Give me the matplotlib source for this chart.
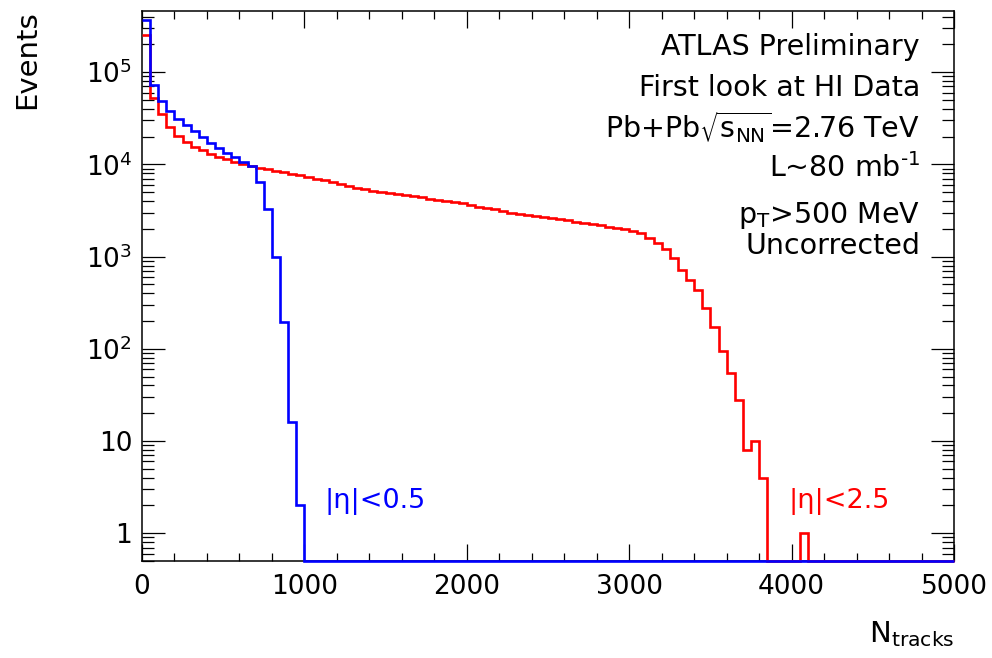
import numpy as np
import matplotlib
matplotlib.use('Agg')
import matplotlib.pyplot as plt
from matplotlib.ticker import FixedLocator, LogLocator, MultipleLocator, NullFormatter

plt.rcParams['font.family'] = ['DejaVu Sans']
plt.rcParams['mathtext.fontset'] = 'dejavusans'
plt.rcParams['mathtext.default'] = 'regular'

### data: N_tracks histograms, 100 bins of 50 from 0 to 5000
bin_edges = np.linspace(0, 5000, 101)

# |eta|<0.5
blue_counts = [3.7e5, 7.2e4, 4.9e4, 3.8e4, 3.1e4, 2.65e4, 2.3e4, 1.98e4, 1.72e4, 1.52e4,
               1.34e4, 1.2e4, 1.06e4, 9.5e3, 6.4e3, 3.25e3, 980, 193, 16, 2] + [0] * 80

# |eta|<2.5
red_counts = [2.5e5, 5.2e4, 3.55e4, 2.55e4, 2.03e4, 1.75e4, 1.55e4, 1.42e4, 1.31e4, 1.2e4,
              1.13e4, 1.06e4, 1.0e4, 9.6e3, 9.2e3, 8.8e3, 8.5e3, 8.2e3, 7.9e3, 7.6e3,
              7.3e3, 7.0e3, 6.7e3, 6.4e3, 6.1e3, 5.8e3, 5.6e3, 5.4e3, 5.2e3, 5.05e3,
              4.9e3, 4.8e3, 4.65e3, 4.5e3, 4.4e3, 4.25e3, 4.15e3, 4.0e3, 3.9e3, 3.8e3,
              3.6e3, 3.45e3, 3.35e3, 3.25e3, 3.15e3, 3.0e3, 2.9e3, 2.8e3, 2.75e3, 2.7e3,
              2.6e3, 2.55e3, 2.47e3, 2.4e3, 2.32e3, 2.25e3, 2.18e3, 2.1e3, 2.05e3, 2.0e3,
              1.9e3, 1.8e3, 1.6e3, 1.4e3, 1.2e3, 970, 720, 555, 430, 275,
              173, 95, 54, 28, 8, 10, 4, 0, 0, 0,
              0, 1] + [0] * 18

ymin, ymax = 0.5, 4.6e5
ytick_vals = [1, 10, 100, 1e3, 1e4, 1e5]
ytick_labels = ['1', '10', r'$10^{2}$', r'$10^{3}$', r'$10^{4}$', r'$10^{5}$']
xtick_vals = [0, 1000, 2000, 3000, 4000, 5000]

W, H = 992, 658
fig = plt.figure(figsize=(W / 100, H / 100), dpi=100)
ax = fig.add_axes([142 / W, 1 - 561 / H, (954 - 142) / W, (561 - 11) / H])

for counts, col in [(red_counts, '#ff0000'), (blue_counts, '#0000ff')]:
    v = np.array(counts, dtype=float)
    v[v <= 0] = ymin  # empty bins sit on the frame, as in ROOT
    ax.stairs(v, bin_edges, baseline=None, color=col, lw=1.9, clip_on=False, zorder=3)

ax.set_yscale('log')
ax.set_xlim(0, 5000)
ax.set_ylim(ymin, ymax)

ax.yaxis.set_major_locator(FixedLocator(ytick_vals))
ax.set_yticklabels(ytick_labels)
ax.yaxis.set_minor_locator(LogLocator(base=10, subs=np.arange(2, 10), numticks=20))
ax.yaxis.set_minor_formatter(NullFormatter())
ax.set_xticks(xtick_vals)
ax.set_xticklabels([str(v) for v in xtick_vals])
ax.xaxis.set_minor_locator(MultipleLocator(200))

ax.tick_params(which='both', direction='in', top=True, right=True, width=0.9, colors='black')
ax.tick_params(axis='y', which='major', length=16.5, labelsize=19, pad=7)
ax.tick_params(axis='y', which='minor', length=8.5)
ax.tick_params(axis='x', which='major', length=12, labelsize=19, pad=9)
ax.tick_params(axis='x', which='minor', length=6)
for sp in ax.spines.values():
    sp.set_linewidth(1.1)

# axis titles
fig.text(27 / W, 1 - 10 / H, 'Events', rotation=90, ha='center', va='top', fontsize=21)
fig.text(955 / W, 1 - 642 / H, r'N$_{\mathrm{tracks}}$', ha='right', va='baseline', fontsize=21)

# ATLAS block
xr = 920 / W
lines = [('ATLAS Preliminary', 55),
         ('First look at HI Data', 96),
         (r'Pb+Pb$\sqrt{\mathrm{s}_{\mathrm{NN}}}$=2.76 TeV', 138),
         ('L~80 mb$^{\u2010\\mathrm{1}}$', 177),
         (r'p$_{\mathrm{T}}$>500 MeV', 223),
         ('Uncorrected', 254)]
for txt, yb in lines:
    fig.text(xr, 1 - yb / H, txt, ha='right', va='baseline', fontsize=20.5)

# curve labels
fig.text(324 / W, 1 - 508 / H, '|η|<0.5', color='#0000ff', ha='left', va='baseline', fontsize=19.5)
fig.text(789 / W, 1 - 508 / H, '|η|<2.5', color='#ff0000', ha='left', va='baseline', fontsize=19.5)

fig.savefig('out.png', dpi=100)
